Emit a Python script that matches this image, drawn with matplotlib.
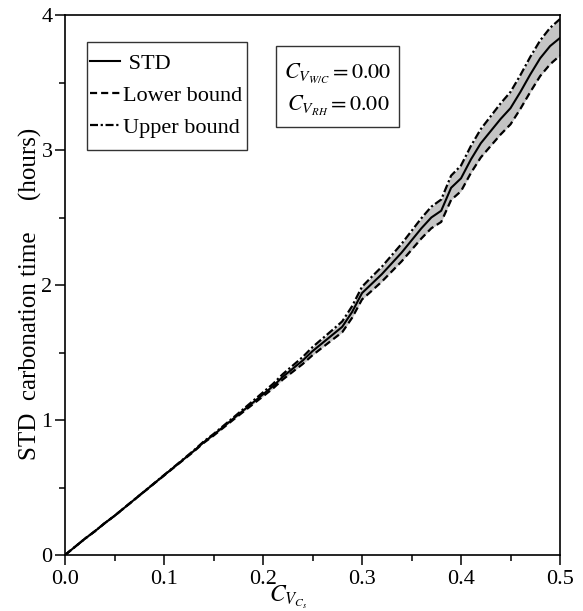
import matplotlib
matplotlib.use("Agg")
import matplotlib.pyplot as plt
from matplotlib.patches import Rectangle

plt.rcParams['font.family'] = ['Liberation Serif', 'DejaVu Serif']
plt.rcParams['mathtext.fontset'] = 'stix'

x_vals = [0.00, 0.01, 0.02, 0.03, 0.04, 0.05, 0.06, 0.07, 0.08, 0.09,
          0.10, 0.11, 0.12, 0.13, 0.14, 0.15, 0.16, 0.17, 0.18, 0.19,
          0.20, 0.21, 0.22, 0.23, 0.24, 0.25, 0.26, 0.27, 0.28, 0.29,
          0.30, 0.31, 0.32, 0.33, 0.34, 0.35, 0.36, 0.37, 0.38, 0.39,
          0.40, 0.41, 0.42, 0.43, 0.44, 0.45, 0.46, 0.47, 0.48, 0.49, 0.50]
std_vals = [0.00, 0.06, 0.12, 0.175, 0.235, 0.29, 0.35, 0.41, 0.47, 0.53,
            0.59, 0.65, 0.71, 0.77, 0.835, 0.89, 0.95, 1.01, 1.07, 1.13,
            1.19, 1.25, 1.32, 1.38, 1.44, 1.51, 1.57, 1.63, 1.69, 1.80,
            1.94, 2.01, 2.08, 2.16, 2.24, 2.33, 2.42, 2.50, 2.55, 2.72,
            2.79, 2.93, 3.05, 3.14, 3.23, 3.31, 3.43, 3.56, 3.68, 3.77, 3.83]
lower_vals = [0.00, 0.06, 0.12, 0.175, 0.235, 0.29, 0.35, 0.41, 0.469, 0.529,
              0.588, 0.648, 0.707, 0.766, 0.83, 0.884, 0.943, 1.002, 1.06, 1.118,
              1.175, 1.233, 1.30, 1.357, 1.414, 1.48, 1.537, 1.594, 1.65, 1.757,
              1.893, 1.958, 2.025, 2.10, 2.175, 2.26, 2.345, 2.42, 2.467, 2.63,
              2.695, 2.83, 2.945, 3.03, 3.115, 3.19, 3.305, 3.43, 3.548, 3.635, 3.70]
upper_vals = [0.00, 0.06, 0.12, 0.175, 0.235, 0.29, 0.35, 0.41, 0.471, 0.531,
              0.592, 0.652, 0.713, 0.774, 0.84, 0.896, 0.957, 1.018, 1.08, 1.142,
              1.205, 1.267, 1.34, 1.403, 1.466, 1.54, 1.603, 1.666, 1.73, 1.843,
              1.987, 2.062, 2.135, 2.22, 2.305, 2.40, 2.495, 2.58, 2.633, 2.81,
              2.885, 3.03, 3.155, 3.25, 3.345, 3.43, 3.555, 3.69, 3.812, 3.905, 3.97]

x_ticks = [0.0, 0.1, 0.2, 0.3, 0.4, 0.5]
x_tick_labels = ['0.0', '0.1', '0.2', '0.3', '0.4', '0.5']
y_ticks = [0, 1, 2, 3, 4]
y_tick_labels = ['0', '1', '2', '3', '4']

W, H = 583, 611
fig = plt.figure(figsize=(W / 100, H / 100), dpi=100)
L, R, T, B = 65, 560, 15, 555
ax = fig.add_axes([L / W, 1 - B / H, (R - L) / W, (B - T) / H])

ax.fill_between(x_vals, lower_vals, upper_vals, color='#c4c4c4', lw=0, zorder=1)
ax.plot(x_vals, std_vals, color='black', lw=1.5, ls='-', label=' STD', zorder=3)
ax.plot(x_vals, lower_vals, color='black', lw=1.6, ls=(0, (3.2, 1.8)), label='Lower bound', zorder=3)
ax.plot(x_vals, upper_vals, color='black', lw=1.6, ls=(0, (3.6, 1.2, 1.0, 1.2)), label='Upper bound', zorder=3)

ax.set_xlim(0, 0.5)
ax.set_ylim(0, 4)
ax.set_xticks(x_ticks)
ax.set_xticklabels(x_tick_labels)
ax.set_yticks(y_ticks)
ax.set_yticklabels(y_tick_labels)
ax.set_xticks([0.05, 0.15, 0.25, 0.35, 0.45], minor=True)
ax.set_yticks([0.5, 1.5, 2.5, 3.5], minor=True)
ax.tick_params(which='major', direction='out', length=7, width=1.1, labelsize=16)
ax.tick_params(axis='x', which='major', pad=4)
ax.tick_params(axis='y', which='major', pad=2)
ax.tick_params(which='minor', direction='out', length=4, width=1.1)
for s in ax.spines.values():
    s.set_linewidth(1.2)

def ax_frac(px, py):
    return ((px - L) / (R - L), (B - py) / (B - T))

ax.set_xlabel(r'$C_{V_{C_s}}$', fontsize=17)
ax.xaxis.set_label_coords(*ax_frac(288, 584))
ax.set_ylabel('STD  carbonation time     (hours)', fontsize=18)
ax.yaxis.set_label_coords(*ax_frac(42, 294))

# legend
leg = ax.legend(loc='upper left', bbox_to_anchor=ax_frac(90, 53), frameon=False,
                fontsize=16, handlelength=1.35, handletextpad=0.15,
                labelspacing=0.52, borderpad=0, borderaxespad=0)
x0, y0 = ax_frac(87, 150)
x1, y1 = ax_frac(247, 42)
ax.add_patch(Rectangle((x0, y0), x1 - x0, y1 - y0, transform=ax.transAxes,
                       fill=False, edgecolor='#333333', lw=1.0, zorder=4))

# info box
x0, y0 = ax_frac(276, 127)
x1, y1 = ax_frac(399, 46)
ax.add_patch(Rectangle((x0, y0), x1 - x0, y1 - y0, transform=ax.transAxes,
                       fill=False, edgecolor='#333333', lw=1.0, zorder=4))
tx, ty = ax_frac(338, 74)
ax.text(tx, ty, r'$C_{V_{W/C}} = 0.00$', transform=ax.transAxes, ha='center', va='center', fontsize=16)
tx, ty = ax_frac(338, 106)
ax.text(tx, ty, r'$C_{V_{RH}} = 0.00$', transform=ax.transAxes, ha='center', va='center', fontsize=16)

fig.savefig('out.png', dpi=100)
